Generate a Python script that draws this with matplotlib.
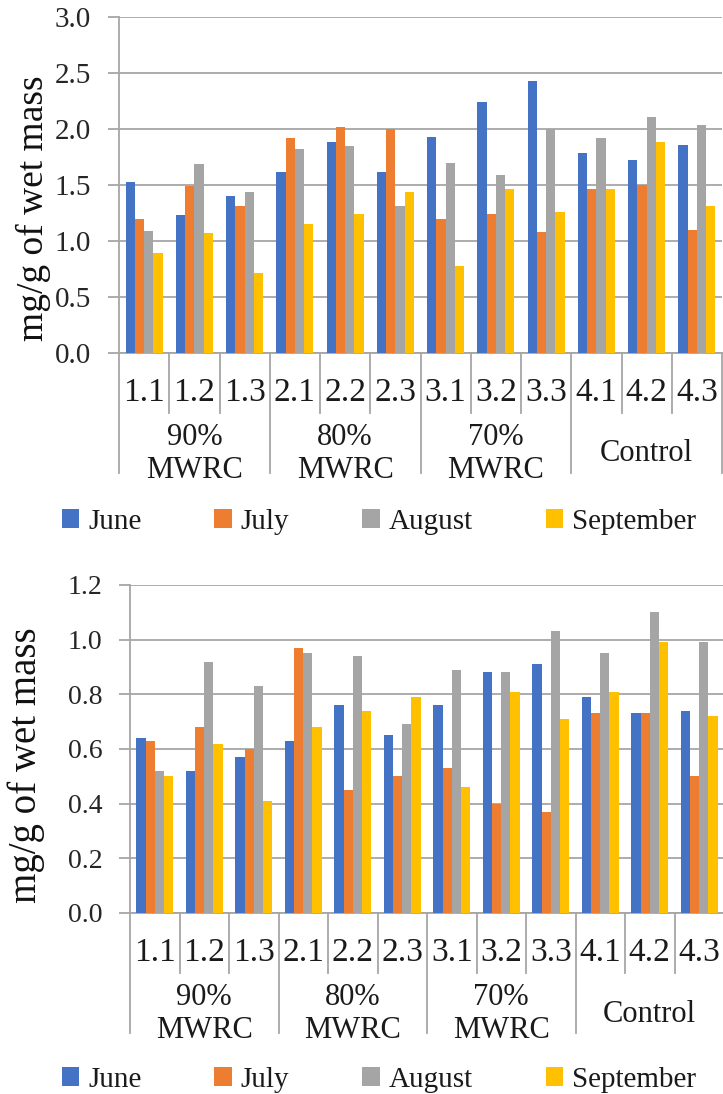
import numpy as np
import matplotlib
matplotlib.use('Agg')
import matplotlib.pyplot as plt
from matplotlib.patches import Patch

plt.rcParams['font.family'] = ['Liberation Serif', 'DejaVu Serif']

cats = ['1.1', '1.2', '1.3', '2.1', '2.2', '2.3', '3.1', '3.2', '3.3', '4.1', '4.2', '4.3']
groups = ['90%\nMWRC', '80%\nMWRC', '70%\nMWRC', 'Control']
months = ['June', 'July', 'August', 'September']
colors = ['#4472C4', '#ED7D31', '#A5A5A5', '#FFC000']

# upper chart
top_june = [1.53, 1.23, 1.40, 1.62, 1.88, 1.62, 1.93, 2.24, 2.43, 1.79, 1.72, 1.86]
top_july = [1.20, 1.49, 1.31, 1.92, 2.02, 2.00, 1.20, 1.24, 1.08, 1.46, 1.50, 1.10]
top_aug = [1.09, 1.69, 1.44, 1.82, 1.85, 1.31, 1.70, 1.59, 2.00, 1.92, 2.11, 2.04]
top_sep = [0.89, 1.07, 0.71, 1.15, 1.24, 1.44, 0.78, 1.46, 1.26, 1.46, 1.88, 1.31]

# lower chart
bot_june = [0.64, 0.52, 0.57, 0.63, 0.76, 0.65, 0.76, 0.88, 0.91, 0.79, 0.73, 0.74]
bot_july = [0.63, 0.68, 0.60, 0.97, 0.45, 0.50, 0.53, 0.40, 0.37, 0.73, 0.73, 0.50]
bot_aug = [0.52, 0.92, 0.83, 0.95, 0.94, 0.69, 0.89, 0.88, 1.03, 0.95, 1.10, 0.99]
bot_sep = [0.50, 0.62, 0.41, 0.68, 0.74, 0.79, 0.46, 0.81, 0.71, 0.81, 0.99, 0.72]

W, H = 723, 1094
fig = plt.figure(figsize=(W / 100, H / 100), dpi=100)
grid_c = '#a6a6a6'


def panel(rect_px, series, ymax, ystep, ylabel_size, tick_size, label_xy):
    l, t, r, b = rect_px
    ax = fig.add_axes([l / W, 1 - b / H, (r - l) / W, (b - t) / H])
    hpx = b - t
    x = np.arange(len(cats))
    bw = 0.185
    for k, vals in enumerate(series):
        ax.bar(x + (k - 1.5) * bw, vals, bw, color=colors[k], linewidth=0, zorder=3)
    ax.set_xlim(-0.5, len(cats) - 0.5)
    ax.set_ylim(0, ymax)
    ax.set_yticks(np.arange(0, ymax + ystep / 2, ystep))
    ax.yaxis.set_major_formatter(matplotlib.ticker.FormatStrFormatter('%.1f'))
    ax.grid(axis='y', color=grid_c, linewidth=1.3, zorder=0)
    ax.set_axisbelow(True)
    for s in ['top', 'right']:
        ax.spines[s].set_visible(False)
    for s in ['left', 'bottom']:
        ax.spines[s].set_color(grid_c)
        ax.spines[s].set_linewidth(1.3)
    ax.tick_params(axis='y', length=8, width=1.3, color=grid_c, labelsize=tick_size, pad=12,
                   labelcolor='#262626')
    ax.set_xticks([])
    ax.set_ylabel('mg/g of wet mass', fontsize=ylabel_size, color='#111111')
    ax.yaxis.set_label_coords(*label_xy)

    tr = ax.get_xaxis_transform()
    for i in range(len(cats) + 1):
        L = 120 if i % 3 == 0 else 60
        ax.plot([i - 0.5, i - 0.5], [0, -L / hpx], transform=tr, color=grid_c,
                linewidth=1.3, clip_on=False)
    for i, c in enumerate(cats):
        ax.text(i, -40 / hpx, c, transform=tr, ha='center', va='center', fontsize=24,
                color='#1a1a1a')
    for g, name in enumerate(groups):
        ax.text(3 * g + 1, -101 / hpx, name, transform=tr, ha='center', va='center',
                fontsize=22, linespacing=1.2, color='#1a1a1a')
    return ax


panel((119, 17, 722, 353), [top_june, top_july, top_aug, top_sep], 3.0, 0.5, 27, 21,
      (-0.113, 0.43))
panel((130, 585, 724, 913), [bot_june, bot_july, bot_aug, bot_sep], 1.2, 0.2, 28, 20,
      (-0.143, 0.45))

handles = [Patch(facecolor=c, linewidth=0) for c in colors]
for yc in [1 - 522 / H, 1 - 1080 / H]:
    fig.legend(handles, months, loc='center', bbox_to_anchor=(0.524, yc), ncol=4,
               frameon=False, fontsize=21, handlelength=0.6, handleheight=0.6,
               handletextpad=0.3, columnspacing=2.5, borderpad=0, labelcolor='#1a1a1a')

fig.savefig('out.png', dpi=100)
